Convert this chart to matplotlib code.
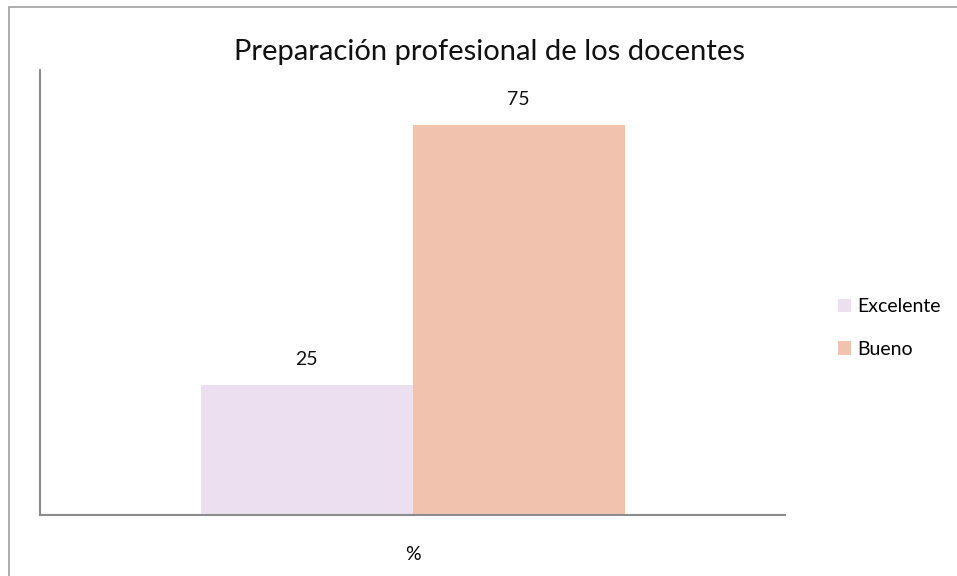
import matplotlib
matplotlib.use("Agg")
import matplotlib.pyplot as plt
from matplotlib.patches import Rectangle

categories = ["%"]
series_names = ["Excelente", "Bueno"]
values = [25, 75]
colors = ["#ECDFEF", "#F1C3AF"]

plt.rcParams['font.family'] = ['Lato', 'DejaVu Sans']

W, H = 957, 576
fig = plt.figure(figsize=(W/100, H/100), dpi=100)

# outer chart border
fig.patches.append(Rectangle((9/W, -0.1), 1.2, 1 - 7/H + 0.1, transform=fig.transFigure,
                             fill=False, edgecolor="#A0A0A0", linewidth=1.2))

ax = fig.add_axes([40/W, 1 - 515/H, (785-40)/W, (515-70)/H])
width = 212/745
offsets = [-width/2, width/2]
for name, v, c, off in zip(series_names, values, colors, offsets):
    ax.bar(0 + off, v, width=width, color=c, label=name)
    ax.text(0 + off, v + 3.3, str(v), ha="center", va="bottom", fontsize=14, color="#111111")

ax.set_xlim(-0.5, 0.5)
ax.set_ylim(0, 85.6)
ax.set_xticks([0])
ax.set_xticklabels(categories, fontsize=14)
ax.tick_params(axis="x", length=0, pad=22)
ax.set_yticks([])
for s in ["top", "right"]:
    ax.spines[s].set_visible(False)
for s in ["left", "bottom"]:
    ax.spines[s].set_color("#8C8C8C")
    ax.spines[s].set_linewidth(1.5)

fig.text(490/W, 1 - 52/H, "Preparación profesional de los docentes", ha="center", va="center",
         fontsize=21, color="#111111")

fig.legend(loc="center left", bbox_to_anchor=(820/W, 1 - 328/H), frameon=False,
           fontsize=14, handlelength=0.7, handleheight=0.7, handletextpad=0.3,
           labelspacing=1.3)

fig.savefig("out.png", dpi=100)
